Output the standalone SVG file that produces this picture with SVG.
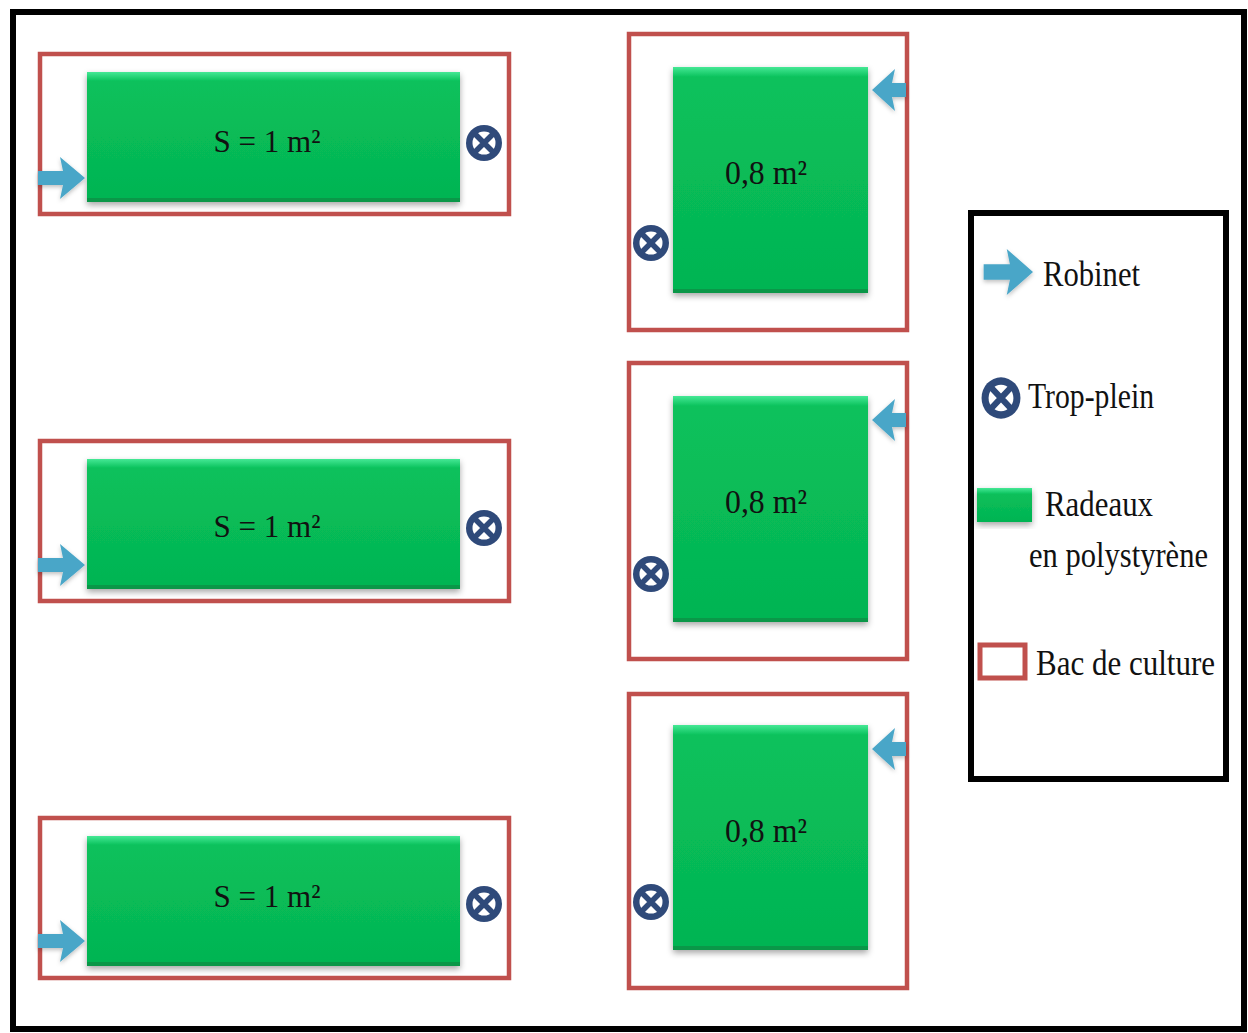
<svg xmlns="http://www.w3.org/2000/svg" xmlns:xlink="http://www.w3.org/1999/xlink" width="1248" height="1033" viewBox="0 0 1248 1033">
  <style>
    .bac { fill: #ffffff; stroke: #c0504d; stroke-width: 4.5; }
    .raft { fill: url(#raftFill); filter: url(#shadow); }
    .raft-top { fill: url(#bevelTop); }
    .raft-edge { fill: #0a9748; }
    .lbl { font-family: "Liberation Serif", "Times New Roman", serif; fill: #111111; text-anchor: middle; }
    .leg { font-family: "Liberation Serif", "Times New Roman", serif; fill: #111111; font-size: 36px; }
    .tap { fill: #4aa6c8; filter: url(#soft); }
  </style>
  <defs>
    <linearGradient id="raftFill" x1="0" y1="0" x2="0" y2="1">
      <stop offset="0" stop-color="#0ac25c"/>
      <stop offset="1" stop-color="#04b452"/>
    </linearGradient>
    <linearGradient id="bevelTop" x1="0" y1="0" x2="0" y2="1">
      <stop offset="0" stop-color="#45e895"/>
      <stop offset="1" stop-color="#0ac25c"/>
    </linearGradient>
    <filter id="shadow" x="-10%" y="-10%" width="120%" height="130%">
      <feDropShadow dx="0" dy="3" stdDeviation="3" flood-color="#000" flood-opacity="0.35"/>
    </filter>
    <filter id="soft" x="-30%" y="-30%" width="160%" height="160%">
      <feDropShadow dx="0" dy="2" stdDeviation="2" flood-color="#000" flood-opacity="0.25"/>
    </filter>
    <!-- tap arrow, tip at origin, pointing right -->
    <path id="tap" class="tap" d="M0,0 L-25,-21 L-22,-7 L-47,-7 L-47,7 L-22,7 L-25,21 Z"/>
    <!-- short tap arrow, tip at origin, pointing left -->
    <path id="tapLeft" class="tap" d="M0,0 L23,-21 L20,-7 L34,-7 L34,7 L20,7 L23,21 Z"/>
    <!-- overflow outlet symbol, centred on origin -->
    <g id="overflow">
      <circle r="18" fill="#2f4a7a"/>
      <circle r="11.5" fill="#ffffff"/>
      <path d="M-12,-12 L12,12 M12,-12 L-12,12" stroke="#2f4a7a" stroke-width="5.5"/>
    </g>
  </defs>

  <rect width="1248" height="1033" fill="#ffffff"/>
  <!-- outer frame -->
  <rect x="13" y="12" width="1231" height="1017" fill="none" stroke="#000000" stroke-width="6"/>

  <!-- long tanks, left column -->
  <g id="tank-left-1">
    <rect class="bac" x="40" y="54" width="469" height="160"/>
    <rect class="raft" x="87" y="72" width="373" height="130"/>
    <rect class="raft-top" x="87" y="72" width="373" height="9"/>
    <rect class="raft-edge" x="87" y="198" width="373" height="4"/>
    <text class="lbl" x="267" y="152" font-size="32" textLength="107" lengthAdjust="spacingAndGlyphs">S = 1 m²</text>
    <use xlink:href="#tap" x="85" y="178"/>
    <use xlink:href="#overflow" x="484" y="143"/>
  </g>
  <g id="tank-left-2">
    <rect class="bac" x="40" y="441" width="469" height="160"/>
    <rect class="raft" x="87" y="459" width="373" height="130"/>
    <rect class="raft-top" x="87" y="459" width="373" height="9"/>
    <rect class="raft-edge" x="87" y="585" width="373" height="4"/>
    <text class="lbl" x="267" y="537" font-size="32" textLength="107" lengthAdjust="spacingAndGlyphs">S = 1 m²</text>
    <use xlink:href="#tap" x="85" y="565"/>
    <use xlink:href="#overflow" x="484" y="528"/>
  </g>
  <g id="tank-left-3">
    <rect class="bac" x="40" y="818" width="469" height="160"/>
    <rect class="raft" x="87" y="836" width="373" height="130"/>
    <rect class="raft-top" x="87" y="836" width="373" height="9"/>
    <rect class="raft-edge" x="87" y="962" width="373" height="4"/>
    <text class="lbl" x="267" y="907" font-size="32" textLength="107" lengthAdjust="spacingAndGlyphs">S = 1 m²</text>
    <use xlink:href="#tap" x="85" y="941"/>
    <use xlink:href="#overflow" x="484" y="904"/>
  </g>

  <!-- square tanks, right column -->
  <g id="tank-right-1">
    <rect class="bac" x="629" y="34" width="278" height="296"/>
    <rect class="raft" x="673" y="67" width="195" height="226"/>
    <rect class="raft-top" x="673" y="67" width="195" height="10"/>
    <rect class="raft-edge" x="673" y="289" width="195" height="4"/>
    <text class="lbl" x="766" y="184" font-size="33" textLength="82" lengthAdjust="spacingAndGlyphs">0,8 m²</text>
    <use xlink:href="#tapLeft" x="872" y="90"/>
    <use xlink:href="#overflow" x="651" y="243"/>
  </g>
  <g id="tank-right-2">
    <rect class="bac" x="629" y="363" width="278" height="296"/>
    <rect class="raft" x="673" y="396" width="195" height="226"/>
    <rect class="raft-top" x="673" y="396" width="195" height="10"/>
    <rect class="raft-edge" x="673" y="618" width="195" height="4"/>
    <text class="lbl" x="766" y="513" font-size="33" textLength="82" lengthAdjust="spacingAndGlyphs">0,8 m²</text>
    <use xlink:href="#tapLeft" x="872" y="420"/>
    <use xlink:href="#overflow" x="651" y="574"/>
  </g>
  <g id="tank-right-3">
    <rect class="bac" x="629" y="694" width="278" height="294"/>
    <rect class="raft" x="673" y="725" width="195" height="225"/>
    <rect class="raft-top" x="673" y="725" width="195" height="10"/>
    <rect class="raft-edge" x="673" y="946" width="195" height="4"/>
    <text class="lbl" x="766" y="842" font-size="33" textLength="82" lengthAdjust="spacingAndGlyphs">0,8 m²</text>
    <use xlink:href="#tapLeft" x="872" y="749"/>
    <use xlink:href="#overflow" x="651" y="902"/>
  </g>

  <!-- legend -->
  <g id="legend">
    <rect x="971" y="213" width="255" height="566" fill="#ffffff" stroke="#000000" stroke-width="6"/>
    <use xlink:href="#tap" transform="translate(1033,272) scale(1.05,1.1)"/>
    <text class="leg" x="1043" y="286" textLength="97" lengthAdjust="spacingAndGlyphs">Robinet</text>
    <use xlink:href="#overflow" transform="translate(1001,398) scale(1.08,1.15)"/>
    <text class="leg" x="1028" y="408" textLength="126" lengthAdjust="spacingAndGlyphs">Trop-plein</text>
    <rect class="raft" x="977" y="488" width="55" height="34"/>
    <rect class="raft-top" x="977" y="488" width="55" height="6"/>
    <text class="leg" x="1045" y="516" textLength="108" lengthAdjust="spacingAndGlyphs">Radeaux</text>
    <text class="leg" x="1029" y="567" textLength="179" lengthAdjust="spacingAndGlyphs">en polystyrène</text>
    <rect x="980" y="645" width="45" height="33" fill="#ffffff" stroke="#c0504d" stroke-width="5"/>
    <text class="leg" x="1036" y="675" textLength="179" lengthAdjust="spacingAndGlyphs">Bac de culture</text>
  </g>
</svg>
